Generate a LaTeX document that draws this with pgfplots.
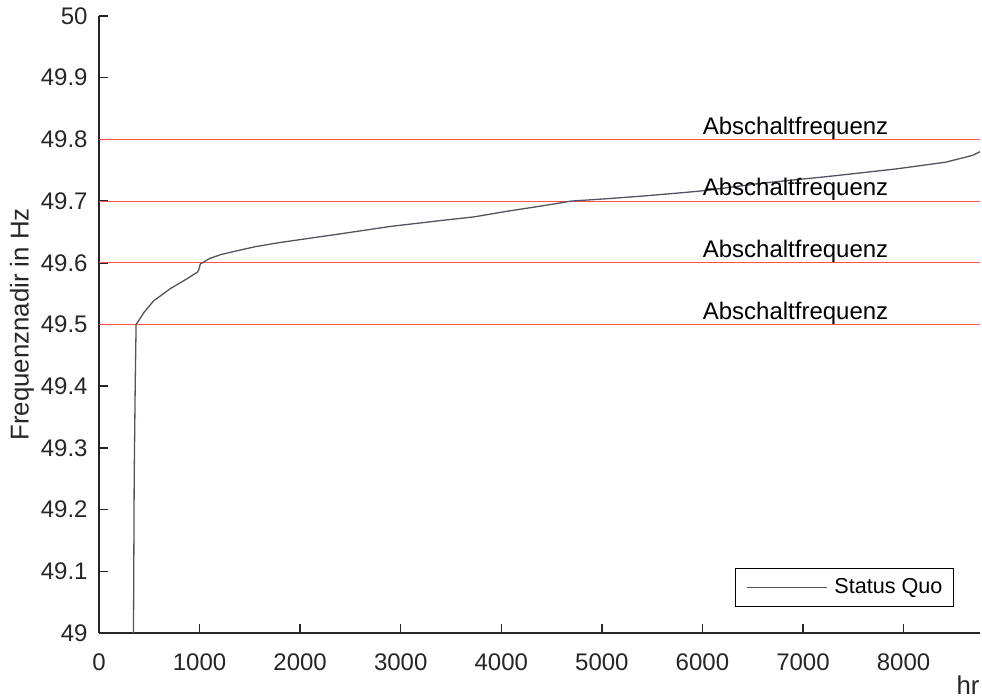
\documentclass[border=0pt]{standalone}
\usepackage{pgfplots}
\pgfplotsset{compat=1.18}
\usepackage{fontspec}
\setmainfont{Liberation Sans}
\definecolor{axgray}{RGB}{38,38,38}
\definecolor{curve}{RGB}{80,84,96}
\definecolor{lred}{RGB}{255,80,80}
\begin{document}
\fontsize{12bp}{14bp}\selectfont
\begin{tikzpicture}
\begin{axis}[
  scale only axis,
  width=440.5bp, height=308.5bp,
  xmin=0, xmax=8760, ymin=49, ymax=50,
  axis lines=left,
  axis line style={-, color=axgray, line width=0.75bp},
  tick align=inside,
  major tick length=4.5bp,
  tick style={color=axgray, line width=0.75bp},
  xtick={0,1000,...,8000},
  ytick={49,49.1,49.2,49.3,49.4,49.5,49.6,49.7,49.8,49.9,50},
  /pgf/number format/assume math mode=true,
  /pgf/number format/set thousands separator={},
  yticklabel style={/pgf/number format/fixed, /pgf/number format/precision=1},
  every tick label/.append style={font=\fontsize{12bp}{14bp}\selectfont, text=axgray, inner sep=0pt},
  xticklabel style={yshift=-10bp},
  yticklabel style={xshift=-5.5bp},
  xlabel={hr},
  ylabel={Frequenznadir in Hz},
  label style={font=\fontsize{12.9bp}{15bp}\selectfont, text=axgray},
  xlabel style={at={(axis description cs:1,0)}, anchor=center, xshift=-6bp, yshift=-26.3bp},
  ylabel style={at={(axis description cs:-0.0875,0.5)}, anchor=center},
  legend style={at={(1,0)}, anchor=south east, xshift=-13bp, yshift=13bp,
    draw=black, line width=0.5bp, font=\fontsize{10.8bp}{13bp}\selectfont,
    inner xsep=5.5bp, inner ysep=4.8bp, nodes={inner sep=0pt}, column sep=3.5bp},
  legend cell align=left,
  legend image code/.code={\draw[#1] (0bp,0bp) -- (40bp,0bp);},
  clip=false,
]
\addplot[lred, line width=0.5bp, forget plot] coordinates {(0,49.8) (8760,49.8)};
\addplot[lred, line width=0.5bp, forget plot] coordinates {(0,49.7) (8760,49.7)};
\addplot[lred, line width=0.5bp, forget plot] coordinates {(0,49.6) (8760,49.6)};
\addplot[lred, line width=0.5bp, forget plot] coordinates {(0,49.5) (8760,49.5)};
\addplot[curve, line width=0.65bp] coordinates {
(343,49) (350,49.25) (360,49.4) (369,49.5) (450,49.52) (541,49.538) (708,49.558)
(874,49.574) (980,49.585) (995,49.59) (1007,49.598) (1100,49.607) (1206,49.613)
(1306,49.617) (1550,49.626) (1805,49.633) (2403,49.647) (2901,49.659) (3400,49.6685)
(3732,49.6745) (4065,49.6837) (4397,49.692) (4696,49.700) (5062,49.704) (5394,49.708)
(5793,49.7135) (6022,49.717) (6590,49.729) (7255,49.740) (7919,49.752) (8418,49.763)
(8684,49.774) (8760,49.78)
};
\addlegendentry{Status Quo}
\node[anchor=south west, inner sep=0pt] at (axis cs:6000,49.5) {Abschaltfrequenz};
\node[anchor=south west, inner sep=0pt] at (axis cs:6000,49.6) {Abschaltfrequenz};
\node[anchor=south west, inner sep=0pt] at (axis cs:6000,49.7) {Abschaltfrequenz};
\node[anchor=south west, inner sep=0pt] at (axis cs:6000,49.8) {Abschaltfrequenz};
\end{axis}
\pgfresetboundingbox
\path[use as bounding box] ([shift={(-49.5bp,-33bp)}]current axis.south west) rectangle ([shift={(1bp,8bp)}]current axis.north east);
\end{tikzpicture}
\end{document}
